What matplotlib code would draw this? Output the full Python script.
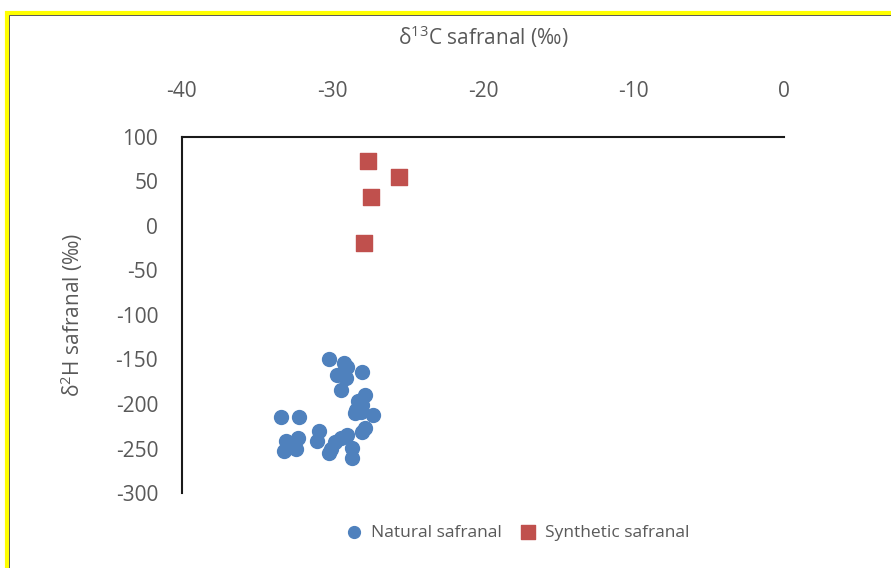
import matplotlib.pyplot as plt
from matplotlib.patches import Rectangle

plt.rcParams['font.family'] = ['Open Sans', 'DejaVu Sans']
plt.rcParams['axes.unicode_minus'] = False
plt.rcParams['mathtext.fontset'] = 'custom'
plt.rcParams['mathtext.rm'] = 'Open Sans'

# natural safranal (d13C, d2H)
nat_c = [-30.2, -29.2, -29.0, -29.7, -29.1, -28.0, -29.4, -27.8, -28.3, -28.0,
         -28.4, -28.5, -27.3, -28.1, -33.4, -32.2, -30.9, -31.0, -32.3, -33.1,
         -33.2, -32.4, -30.1, -29.8, -29.4, -29.0, -30.2, -28.7, -28.7, -27.8, -28.0]
nat_h = [-150, -154, -159, -167, -171, -164, -184, -190, -197, -201,
         -207, -210, -212, -209, -215, -215, -230, -242, -238, -242,
         -253, -251, -250, -243, -238, -235, -255, -249, -261, -227, -231]

# synthetic safranal
syn_c = [-27.6, -25.6, -27.4, -27.9]
syn_h = [73, 55, 33, -19]

grey = '#595959'

fig = plt.figure(figsize=(8.91, 5.68), dpi=100)
ax = fig.add_axes([0.204, 0.132, 0.676, 0.627])

ax.scatter(nat_c, nat_h, s=100, c='#4F81BD', marker='o', label='Natural safranal', zorder=3)
ax.scatter(syn_c, syn_h, s=125, c='#C0504D', marker='s', label='Synthetic safranal', zorder=3)

ax.set_xlim(-40, 0)
ax.set_ylim(-300, 100)
ax.set_xticks([-40, -30, -20, -10, 0])
ax.set_yticks(range(-300, 101, 50))

ax.xaxis.tick_top()
ax.xaxis.set_label_position('top')
ax.tick_params(axis='both', length=0, labelsize=15, colors=grey)
ax.tick_params(axis='x', pad=25)
ax.tick_params(axis='y', pad=17)

for s in ['bottom', 'right']:
    ax.spines[s].set_visible(False)
ax.spines['top'].set_color('#1a1a1a')
ax.spines['left'].set_color('#1a1a1a')
ax.spines['top'].set_linewidth(1.5)
ax.spines['left'].set_linewidth(1.5)

ax.set_xlabel('δ$^{13}$C safranal (‰)', fontsize=15, color=grey, labelpad=26)
ax.set_ylabel('δ$^{2}$H safranal (‰)', fontsize=15, color=grey, labelpad=22)

ax.legend(loc='upper center', bbox_to_anchor=(0.55, -0.045), ncol=2, frameon=False,
          fontsize=12.5, labelcolor=grey, handletextpad=0.0, columnspacing=0.5,
          markerscale=0.85)

# yellow frame around the chart
fig.patches.append(Rectangle((7 / 891, -0.05), 1.1, 1 - 13 / 568 + 0.05,
                             transform=fig.transFigure, fill=False,
                             edgecolor='#FFFF00', linewidth=3, zorder=0))
fig.patches.append(Rectangle((9 / 891, -0.05), 1.1, 1 - 15 / 568 + 0.05,
                             transform=fig.transFigure, fill=False,
                             edgecolor='#404040', linewidth=0.6, zorder=0))

plt.savefig('out.png', dpi=100)
